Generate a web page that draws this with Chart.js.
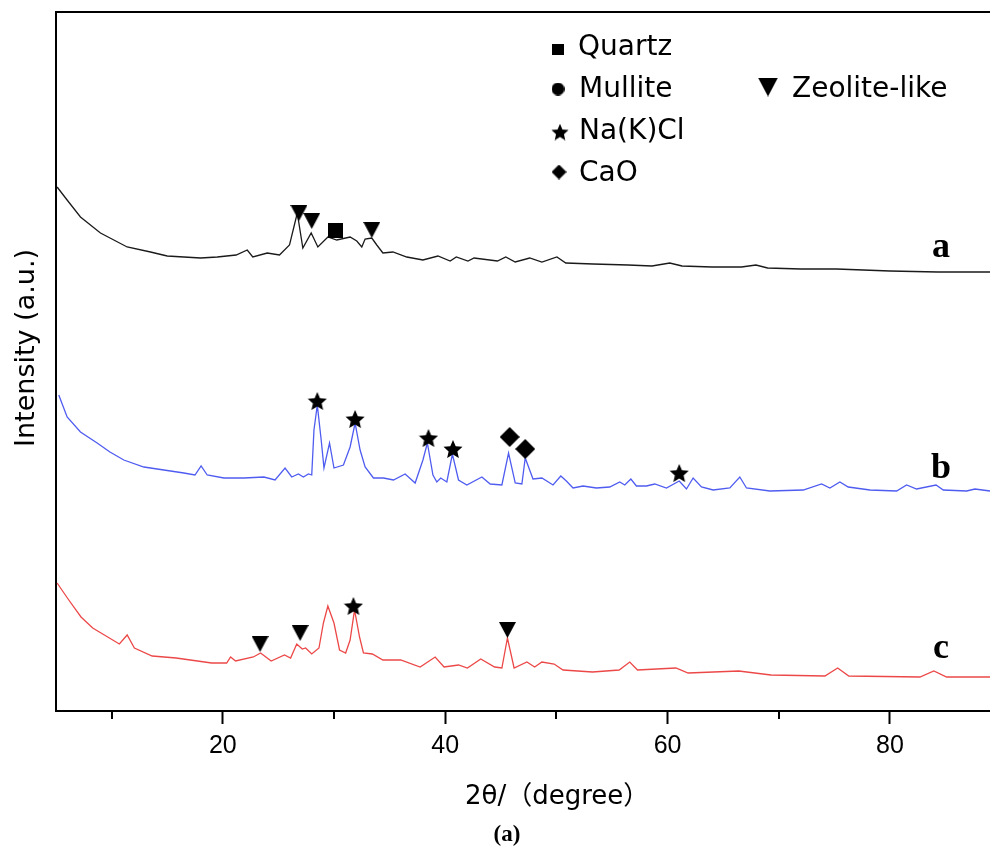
<!DOCTYPE html>
<html>
<head>
<meta charset="utf-8">
<script src="https://cdn.jsdelivr.net/npm/chart.js@4.4.1/dist/chart.umd.min.js"></script>
<style>
  html, body { margin: 0; padding: 0; background: #fff; overflow: hidden; }
  canvas { display: block; }
</style>
</head>
<body>
<canvas id="xrd" width="990" height="848"></canvas>
<script>
// ---- XRD patterns: 2θ (degree) vs intensity (a.u., patterns offset vertically) ----
const thetaA = [5.1, 6.0, 7.2, 9.0, 11.4, 13.5, 15.0, 18.0, 19.5, 21.2, 22.2, 22.7, 24.0, 25.1, 26.0, 26.7, 27.2, 27.95, 28.55, 29.45, 30.25, 31.45, 32.05, 32.5, 32.8, 33.4, 33.85, 34.4, 35.3, 36.55, 38.0, 39.35, 40.45, 41.0, 42.05, 42.6, 44.7, 45.45, 46.3, 47.6, 48.7, 50.05, 50.85, 53.3, 56.45, 58.6, 60.2, 61.3, 64.0, 66.65, 67.95, 69.0, 72.0, 75.2, 80.0, 84.3, 89.0];
const intensityA = [524, 511, 494, 478, 464, 459, 455, 453, 454, 456, 461, 454, 458, 456, 466, 498, 463, 478, 464, 474, 471, 474, 470, 464, 472, 473, 466, 458, 459, 454, 451, 455, 450, 454, 450, 453, 450, 454, 449, 453, 449, 454, 448, 447, 446, 445, 448, 445, 444, 444, 446, 443, 442, 442, 440, 439, 439];

const thetaB = [5.25, 6.0, 7.2, 8.7, 9.85, 11.1, 12.9, 14.7, 16.5, 17.5, 18.05, 18.6, 20.1, 21.9, 23.7, 24.7, 25.6, 26.2, 26.8, 27.25, 27.7, 28.0, 28.2, 28.5, 28.85, 29.1, 29.6, 30.0, 30.85, 31.45, 31.9, 32.35, 32.8, 33.55, 34.45, 35.35, 36.4, 37.3, 38.0, 38.4, 38.9, 39.25, 39.6, 40.15, 40.65, 41.2, 41.95, 43.3, 44.05, 45.1, 45.7, 46.3, 46.9, 47.2, 47.9, 48.7, 49.7, 50.4, 50.9, 51.5, 52.4, 53.6, 54.8, 55.7, 56.15, 56.7, 57.2, 58.1, 58.85, 59.9, 61.05, 61.7, 62.3, 63.05, 64.1, 65.6, 66.5, 67.1, 69.2, 72.2, 73.85, 74.6, 75.5, 76.25, 78.2, 80.6, 81.5, 82.4, 84.15, 84.8, 86.9, 87.65, 89.0];
const intensityB = [316, 294, 279, 268, 259, 251, 244, 241, 238, 236, 245, 236, 233, 233, 234, 231, 243, 234, 237, 234, 237, 236, 281, 306, 271, 243, 268, 243, 246, 264, 288, 261, 244, 233, 233, 231, 237, 228, 251, 268, 236, 229, 233, 229, 257, 231, 226, 234, 227, 226, 258, 228, 227, 253, 232, 233, 226, 235, 230, 223, 225, 223, 224, 229, 226, 232, 225, 225, 227, 223, 230, 222, 233, 224, 221, 223, 234, 223, 220, 221, 227, 223, 229, 224, 221, 220, 226, 222, 226, 221, 220, 222, 220];

const thetaC = [5.1, 6.15, 7.25, 8.3, 9.35, 10.7, 11.4, 12.05, 13.65, 15.8, 19.0, 20.35, 20.7, 21.15, 22.75, 23.4, 24.35, 25.55, 26.1, 26.65, 27.15, 27.45, 28.0, 28.65, 29.05, 29.45, 30.0, 30.5, 31.05, 31.45, 31.85, 32.3, 32.65, 33.45, 34.4, 36.0, 37.75, 39.1, 39.9, 41.2, 42.0, 43.2, 44.45, 45.1, 45.6, 46.2, 47.35, 48.05, 48.7, 49.8, 50.6, 53.25, 55.65, 56.6, 57.3, 60.75, 61.85, 66.4, 69.3, 74.15, 75.3, 76.3, 82.7, 83.95, 85.1, 89.0];
const intensityC = [128, 111, 94, 83, 76, 67, 76, 63, 55, 53, 48, 48, 54, 50, 54, 58, 50, 56, 53, 67, 62, 63, 57, 63, 88, 105, 88, 61, 58, 71, 101, 74, 58, 57, 51, 51, 44, 54, 44, 46, 43, 52, 44, 43, 73, 43, 49, 44, 49, 47, 41, 39, 41, 49, 41, 43, 38, 40, 36, 35, 43, 35, 34, 40, 34, 34];

// ---- Phase identification marks (2θ, level) ----
const quartzTheta = [30.1];
const quartzLevel = [481];
const naclTheta = [28.5, 31.9, 38.5, 40.7, 61.05, 31.75];
const naclLevel = [310, 292, 273, 262, 238, 105];
const caoTheta = [45.8, 47.2];
const caoLevel = [274, 262];
const zeoliteTheta = [26.85, 28.0, 33.4, 23.35, 26.95, 45.6];
const zeoliteLevel = [498, 490, 481, 67, 78, 81];

// ---- Axis / text content ----
const xMin = 5, xMax = 89;
const yMin = 0, yMax = 699;
const majorTicks = [20, 40, 60, 80];
const minorTicks = [10, 30, 50, 70];
const seriesNames = ['a', 'b', 'c'];
const seriesColors = ['#1a1a1a', '#4f5cf0', '#ec4848'];
const legendNames = ['Quartz', 'Mullite', 'Na(K)Cl', 'CaO', 'Zeolite-like'];
const xTitle = '2θ/（degree）';
const yTitle = 'Intensity (a.u.)';
const panelTag = '(a)';

// ---- filled marker glyphs ----
function glyph(shape, w, h) {
  const c = document.createElement('canvas');
  c.width = w; c.height = h;
  const g = c.getContext('2d');
  g.fillStyle = '#000';
  g.beginPath();
  if (shape === 'down') {
    g.moveTo(0, 0); g.lineTo(w, 0); g.lineTo(w / 2, h);
  } else if (shape === 'square') {
    g.rect(0, 0, w, h);
  } else if (shape === 'circle') {
    g.arc(w / 2, h / 2, w / 2, 0, Math.PI * 2);
  } else if (shape === 'diamond') {
    g.moveTo(w / 2, 0); g.lineTo(w, h / 2); g.lineTo(w / 2, h); g.lineTo(0, h / 2);
  } else if (shape === 'star') {
    const R = w / 2, r = R * 0.46;
    const cy = R + (h - R * 1.809) / 2;
    for (let i = 0; i < 10; i++) {
      const rad = i % 2 === 0 ? R : r;
      const a = -Math.PI / 2 + i * Math.PI / 5;
      const px = w / 2 + rad * Math.cos(a), py = cy + rad * Math.sin(a);
      if (i === 0) g.moveTo(px, py); else g.lineTo(px, py);
    }
  }
  g.closePath();
  g.fill();
  return c;
}

const markDown = glyph('down', 17, 16);
const markSquare = glyph('square', 15, 15);
const markStar = glyph('star', 20, 18);
const markDiamond = glyph('diamond', 20, 20);

const legendGlyphs = [
  glyph('square', 12, 11),
  glyph('circle', 13, 13),
  glyph('star', 18, 17),
  glyph('diamond', 15, 15),
  glyph('down', 20, 19)
];

const pts = (xs, ys) => xs.map((x, i) => ({ x: x, y: ys[i] }));

function curve(label, xs, ys, color) {
  return {
    label: label, data: pts(xs, ys), showLine: true,
    borderColor: color, borderWidth: 1.3, pointRadius: 0, pointHoverRadius: 0,
    tension: 0, fill: false, order: 2
  };
}
function marks(label, xs, ys, img) {
  return {
    label: label, data: pts(xs, ys), showLine: false,
    pointStyle: img, pointRadius: 9, pointHoverRadius: 9, order: 1
  };
}

// minor ticks, legend block, axis titles and curve names
const decorations = {
  id: 'decorations',
  afterDraw(chart) {
    const ctx = chart.ctx;
    const xs = chart.scales.x;
    const bottom = chart.chartArea.bottom;
    ctx.save();
    ctx.strokeStyle = '#000';
    ctx.lineWidth = 2;
    minorTicks.forEach(v => {
      const px = Math.round(xs.getPixelForValue(v));
      ctx.beginPath();
      ctx.moveTo(px, bottom);
      ctx.lineTo(px, bottom + 8);
      ctx.stroke();
    });

    // legend
    ctx.fillStyle = '#000';
    ctx.textAlign = 'left';
    ctx.textBaseline = 'alphabetic';
    ctx.font = '28px "DejaVu Sans"';
    const rows = [
      { g: 0, cx: 558, cy: 49, tx: 578, by: 55 },
      { g: 1, cx: 558, cy: 89, tx: 579, by: 97 },
      { g: 2, cx: 560, cy: 132, tx: 579, by: 139 },
      { g: 3, cx: 559, cy: 172, tx: 579, by: 181 },
      { g: 4, cx: 768, cy: 87, tx: 792, by: 97 }
    ];
    rows.forEach((r, i) => {
      const im = legendGlyphs[r.g];
      ctx.drawImage(im, r.cx - im.width / 2, r.cy - im.height / 2);
      ctx.fillText(legendNames[i], r.tx, r.by);
    });

    // curve names
    ctx.font = 'bold 36px "Liberation Serif"';
    ctx.textAlign = 'center';
    const nameBase = [257, 478, 658];
    seriesNames.forEach((n, i) => ctx.fillText(n, 941, nameBase[i]));

    // axis titles
    ctx.font = '26px "DejaVu Sans", "Noto Sans CJK SC"';
    ctx.textAlign = 'left';
    ctx.textBaseline = 'middle';
    ctx.fillText(xTitle, 465, 797);

    ctx.font = 'bold 23px "Liberation Serif"';
    ctx.textAlign = 'center';
    ctx.fillText(panelTag, 507, 835);

    ctx.save();
    ctx.translate(27, 348);
    ctx.rotate(-Math.PI / 2);
    ctx.font = '27px "DejaVu Sans"';
    ctx.textAlign = 'center';
    ctx.textBaseline = 'middle';
    ctx.fillText(yTitle, 0, 0);
    ctx.restore();

    ctx.restore();
  }
};

function fitBottom(s) { s.height = 137; s.paddingLeft = 0; s.paddingRight = 0; }
function fitTop(s) { s.height = 12; s.paddingLeft = 0; s.paddingRight = 0; }

new Chart(document.getElementById('xrd'), {
  type: 'scatter',
  data: {
    datasets: [
      curve('a', thetaA, intensityA, seriesColors[0]),
      curve('b', thetaB, intensityB, seriesColors[1]),
      curve('c', thetaC, intensityC, seriesColors[2]),
      marks('Quartz', quartzTheta, quartzLevel, markSquare),
      marks('Na(K)Cl', naclTheta, naclLevel, markStar),
      marks('CaO', caoTheta, caoLevel, markDiamond),
      marks('Zeolite-like', zeoliteTheta, zeoliteLevel, markDown)
    ]
  },
  options: {
    responsive: false,
    animation: false,
    devicePixelRatio: 1,
    layout: { padding: 0, autoPadding: false },
    plugins: { legend: { display: false }, tooltip: { enabled: false }, title: { display: false } },
    scales: {
      x: {
        type: 'linear', position: 'bottom', min: xMin, max: xMax,
        afterFit: fitBottom,
        afterBuildTicks(s) { s.ticks = majorTicks.map(v => ({ value: v })); },
        grid: { display: true, drawOnChartArea: false, drawTicks: true, tickLength: 13, tickColor: '#000', tickWidth: 2 },
        border: { display: true, color: '#000', width: 2 },
        ticks: { color: '#000', font: { family: '"Liberation Sans"', size: 25 }, padding: 7, maxRotation: 0 }
      },
      xTop: {
        type: 'linear', position: 'top', min: xMin, max: xMax,
        afterFit: fitTop,
        grid: { display: true, drawOnChartArea: false, drawTicks: false },
        border: { display: true, color: '#000', width: 2 },
        ticks: { display: false }
      },
      y: {
        type: 'linear', position: 'left', min: yMin, max: yMax,
        afterFit(s) { s.width = 56; s.paddingTop = 0; s.paddingBottom = 0; },
        grid: { display: true, drawOnChartArea: false, drawTicks: false },
        border: { display: true, color: '#000', width: 2 },
        ticks: { display: false }
      }
    }
  },
  plugins: [decorations]
});
</script>
</body>
</html>
